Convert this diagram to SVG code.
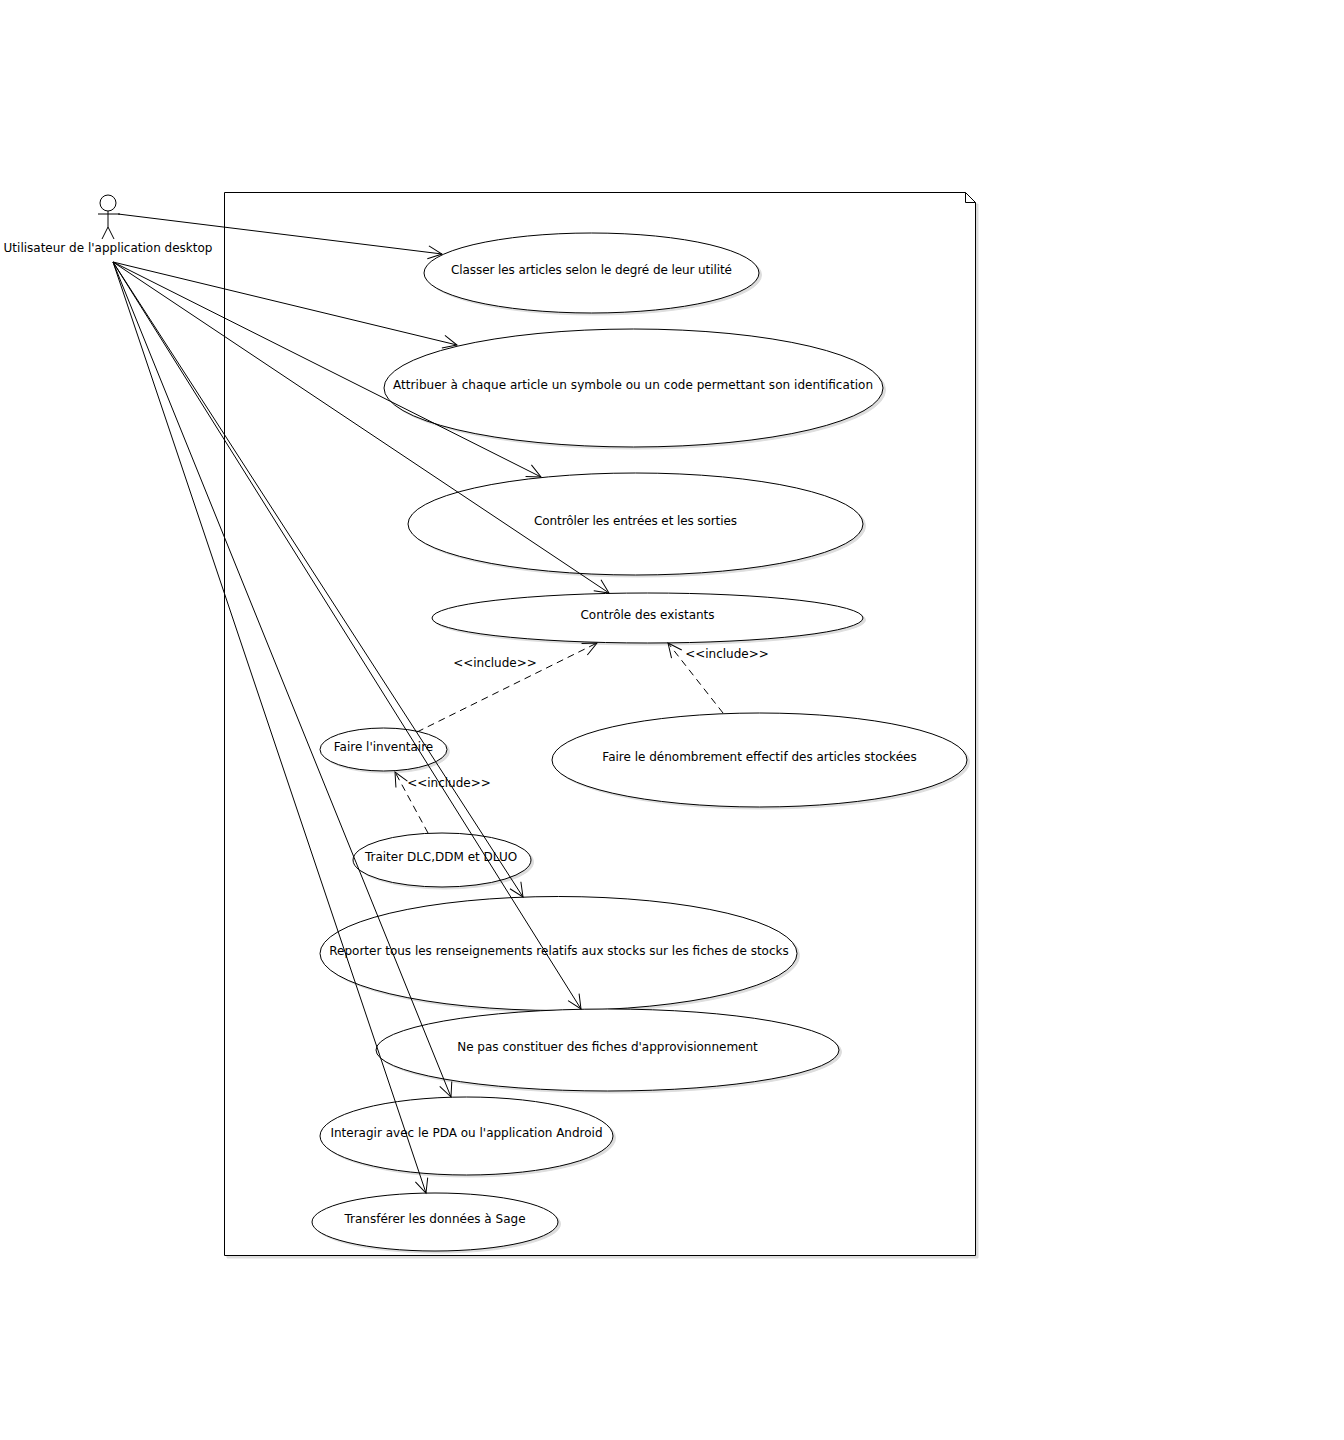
<svg xmlns="http://www.w3.org/2000/svg" width="1344" height="1440" viewBox="0 0 1344 1440">
<style>
text{font-family:"DejaVu Sans",sans-serif;font-size:12px;fill:#000;text-anchor:middle}
.u ellipse.s,.s{fill:#c8c8c8;stroke:#c8c8c8;stroke-width:1;opacity:.6}
.e{fill:#fff;stroke:#000;stroke-width:1}
.c line{stroke:#000;stroke-width:1;fill:none;marker-end:url(#a)}
.c line.d{stroke-dasharray:7 5}
.l{fill:none;stroke:#000;stroke-width:1}
</style>
<defs><marker id="a" markerUnits="userSpaceOnUse" markerWidth="20" markerHeight="20" refX="15" refY="10" orient="auto"><path d="M1 3.500L15 10L1 16.500" fill="none" stroke="#000" stroke-width="1"/></marker></defs>
<rect width="1344" height="1440" fill="#fff"/>
<g id="system">
<path class="s" d="M227 204V1258H978V204Z"/>
<path class="e" d="M224.500 192.500H965.500L975.500 202.500V1255.500H224.500Z"/>
<path class="l" d="M965.500 192.500V202.500H975.500"/>
</g>
<g id="actor">
<circle class="l" cx="108" cy="203" r="8"/>
<path class="l" d="M108 211V227M98 214H120M108 227L102 239M108 227L114 239"/>
<text x="108" y="252">Utilisateur de l'application desktop</text>
</g>
<g id="uc1" class="u"><ellipse class="s" cx="594" cy="275" rx="167.500" ry="40"/><ellipse class="e" cx="591.500" cy="273" rx="167.500" ry="40"/><text x="591.500" y="274" textLength="281">Classer les articles selon le degré de leur utilité</text></g>
<g id="uc2" class="u"><ellipse class="s" cx="636" cy="390" rx="249.500" ry="59"/><ellipse class="e" cx="633.500" cy="388" rx="249.500" ry="59"/><text x="633" y="389" textLength="480">Attribuer à chaque article un symbole ou un code permettant son identification</text></g>
<g id="uc3" class="u"><ellipse class="s" cx="638" cy="526" rx="227.500" ry="51"/><ellipse class="e" cx="635.500" cy="524" rx="227.500" ry="51"/><text x="635.500" y="525" textLength="203">Contrôler les entrées et les sorties</text></g>
<g id="uc4" class="u"><ellipse class="s" cx="650" cy="620" rx="215.500" ry="25"/><ellipse class="e" cx="647.500" cy="618" rx="215.500" ry="25"/><text x="647.500" y="619">Contrôle des existants</text></g>
<g id="uc5" class="u"><ellipse class="s" cx="386" cy="751.500" rx="63.500" ry="21.500"/><ellipse class="e" cx="383.500" cy="749.500" rx="63.500" ry="21.500"/><text x="383.500" y="751">Faire l'inventaire</text></g>
<g id="uc6" class="u"><ellipse class="s" cx="762" cy="762" rx="207.500" ry="47"/><ellipse class="e" cx="759.500" cy="760" rx="207.500" ry="47"/><text x="759.500" y="761">Faire le dénombrement effectif des articles stockées</text></g>
<g id="uc7" class="u"><ellipse class="s" cx="444.500" cy="862" rx="89" ry="27"/><ellipse class="e" cx="442" cy="860" rx="89" ry="27"/><text x="441" y="861">Traiter DLC,DDM et DLUO</text></g>
<g id="uc8" class="u"><ellipse class="s" cx="561" cy="955.500" rx="238.500" ry="57"/><ellipse class="e" cx="558.500" cy="953.500" rx="238.500" ry="57"/><text x="559" y="955">Reporter tous les renseignements relatifs aux stocks sur les fiches de stocks</text></g>
<g id="uc9" class="u"><ellipse class="s" cx="610" cy="1052" rx="231.500" ry="41"/><ellipse class="e" cx="607.500" cy="1050" rx="231.500" ry="41"/><text x="607.500" y="1051">Ne pas constituer des fiches d'approvisionnement</text></g>
<g id="uc10" class="u"><ellipse class="s" cx="469" cy="1138" rx="146.500" ry="39"/><ellipse class="e" cx="466.500" cy="1136" rx="146.500" ry="39"/><text x="466.500" y="1137">Interagir avec le PDA ou l'application Android</text></g>
<g id="uc11" class="u"><ellipse class="s" cx="437.500" cy="1224" rx="123" ry="29"/><ellipse class="e" cx="435" cy="1222" rx="123" ry="29"/><text x="435" y="1223">Transférer les données à Sage</text></g>
<g id="connectors" class="c">
<line x1="118" y1="214" x2="442" y2="254"/>
<line x1="113" y1="262" x2="457" y2="345"/>
<line x1="113" y1="262" x2="541" y2="477"/>
<line x1="113" y1="262" x2="609" y2="593"/>
<line x1="113" y1="262" x2="523" y2="897"/>
<line x1="113" y1="262" x2="581" y2="1009"/>
<line x1="113" y1="262" x2="451" y2="1097"/>
<line x1="113" y1="262" x2="426" y2="1193"/>
<line class="d" x1="417" y1="732" x2="597" y2="643"/>
<line class="d" x1="723" y1="713" x2="668" y2="643"/>
<line class="d" x1="428" y1="833" x2="395" y2="772"/>
</g>
<g id="labels">
<text x="495" y="667">&lt;&lt;include&gt;&gt;</text>
<text x="727" y="658">&lt;&lt;include&gt;&gt;</text>
<text x="449" y="787">&lt;&lt;include&gt;&gt;</text>
</g>
</svg>
